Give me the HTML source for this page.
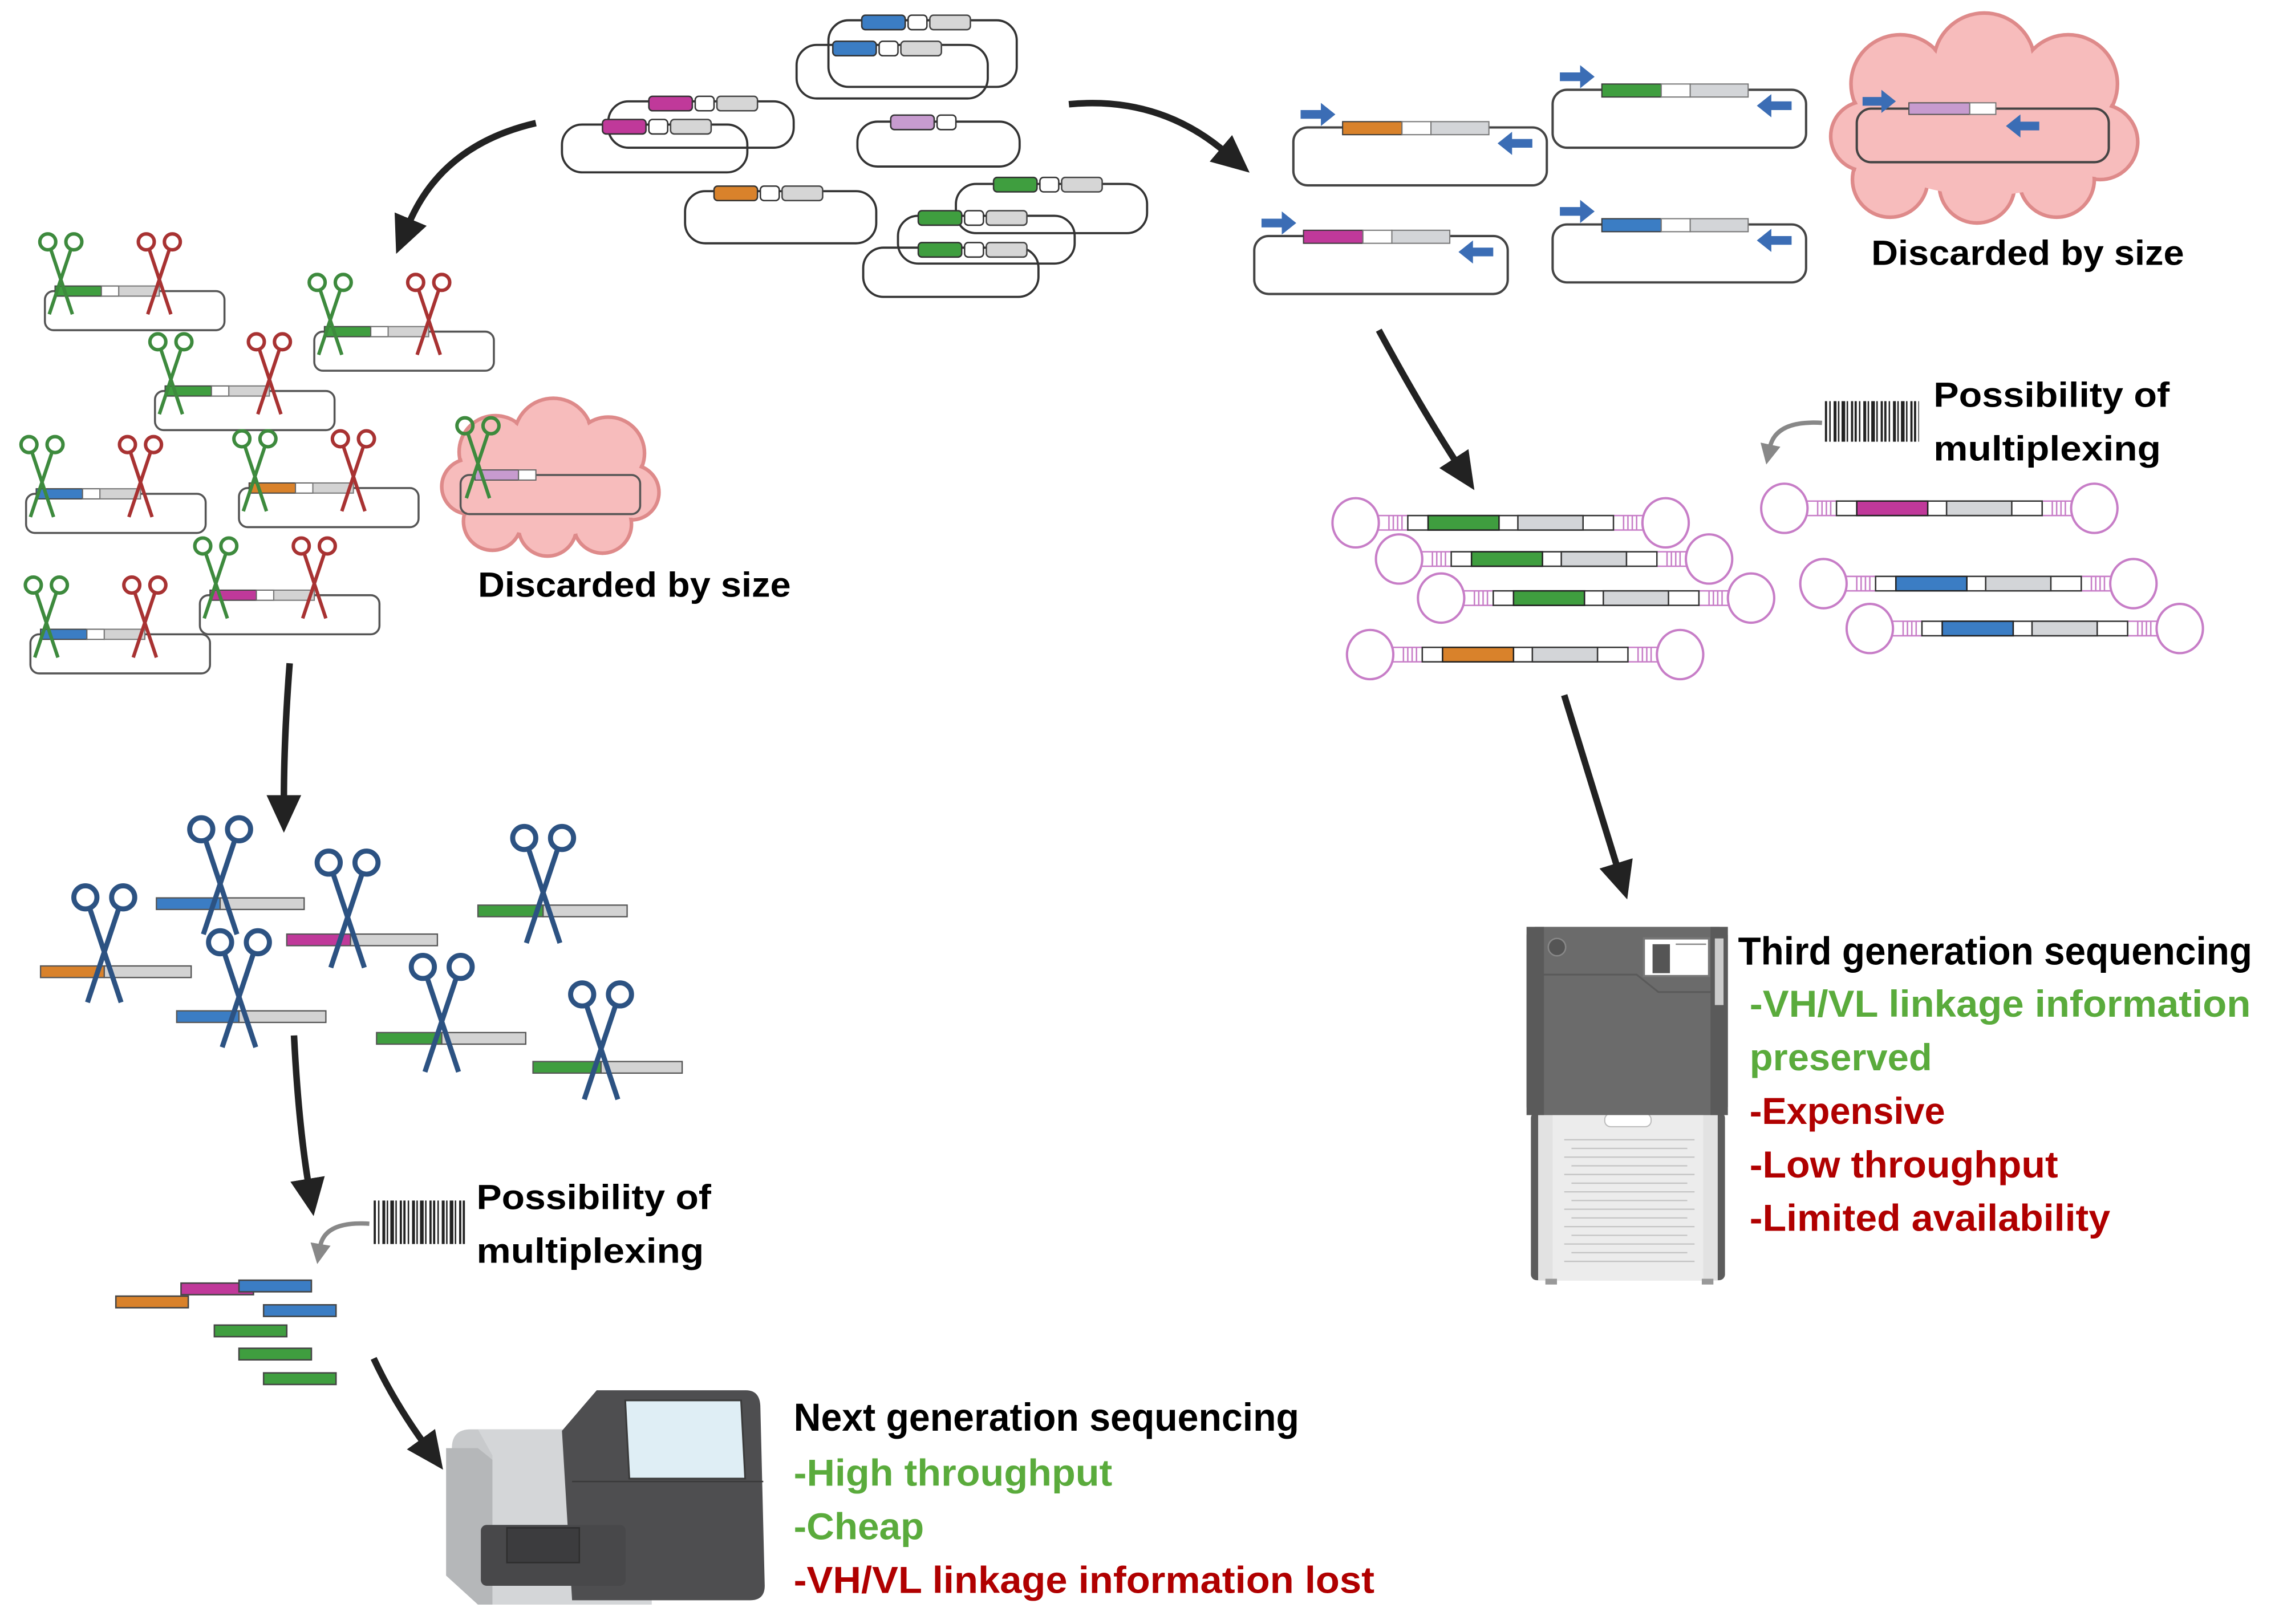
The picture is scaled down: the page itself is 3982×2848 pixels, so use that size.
<!DOCTYPE html>
<html><head><meta charset="utf-8"><style>
html,body{margin:0;padding:0;background:#fff}
svg{display:block}
.t{font-family:"Liberation Sans",sans-serif;font-weight:bold}
</style></head><body>
<svg width="3982" height="2848" viewBox="0 0 1568 1121.4" preserveAspectRatio="none" xmlns="http://www.w3.org/2000/svg">
<defs>
<marker id="ah" markerUnits="userSpaceOnUse" markerWidth="30" markerHeight="30" refX="4" refY="12" orient="auto" viewBox="0 0 30 24"><path d="M0,0 L26,12 L0,24 z" fill="#222"/></marker>
<marker id="gh" markerUnits="userSpaceOnUse" markerWidth="16" markerHeight="16" refX="2" refY="7" orient="auto" viewBox="0 0 16 14"><path d="M0,0 L14,7 L0,14 z" fill="#888"/></marker>
<!-- small scissors, cross at 0,0 -->
<g id="sc" fill="none" stroke-width="2.4">
<circle cx="-9" cy="-23" r="5.5"/><circle cx="9" cy="-23" r="5.5"/>
<path d="M-7,-18 L8,27 M7,-18 L-8,27"/>
</g>
<!-- left scissor plasmid -->
<g id="lp">
<rect x="0" y="0" width="124" height="27" rx="6" fill="none" stroke="#555" stroke-width="1.4"/>
<rect x="7" y="-3.5" width="32" height="7" stroke="#444" stroke-width="0.8"/>
<rect x="39" y="-3.5" width="12" height="7" fill="#fff" stroke="#666" stroke-width="0.8"/>
<rect x="51" y="-3.5" width="28" height="7" fill="#d3d3d3" stroke="#777" stroke-width="0.8"/>
<use href="#sc" x="11" y="-11" stroke="#3d8a3d"/>
<use href="#sc" x="79" y="-11" stroke="#a83232"/>
</g>
<!-- PCR plasmid -->
<g id="pp">
<rect x="0" y="0" width="175" height="40" rx="10" fill="none" stroke="#444" stroke-width="1.6"/>
<rect x="34" y="-4" width="41" height="9" stroke="#3a3a3a" stroke-width="0.8"/>
<rect x="75" y="-4" width="20" height="9" fill="#fff" stroke="#777" stroke-width="0.8"/>
<rect x="95" y="-4" width="40" height="9" fill="#d3d5d8" stroke="#777" stroke-width="0.8"/>
<path d="M5,-12 h14 v-5 l10,8 l-10,8 v-5 h-14z" fill="#3b6db5"/>
<path d="M165,8 h-14 v-5 l-10,8 l10,8 v-5 h14z" fill="#3b6db5"/>
</g>
<!-- dumbbell -->
<g id="db">
<ellipse cx="0" cy="0" rx="16" ry="17" fill="none" stroke="#c77dc7" stroke-width="1.6"/>
<ellipse cx="214" cy="0" rx="16" ry="17" fill="none" stroke="#c77dc7" stroke-width="1.6"/>
<path d="M15,-5 H36 M15,5 H36 M178,-5 H199 M178,5 H199 M23,-5 v10 M26,-5 v10 M29,-5 v10 M32,-5 v10 M185,-5 v10 M188,-5 v10 M191,-5 v10 M194,-5 v10" stroke="#c77dc7" stroke-width="1"/>
<rect x="36" y="-5" width="142" height="10" fill="#fff" stroke="#333" stroke-width="1"/>
<rect x="50" y="-5" width="49" height="10" stroke="#222" stroke-width="1"/>
<rect x="112" y="-5" width="45" height="10" fill="#d3d5d8" stroke="#333" stroke-width="1"/>
</g>
<!-- top plasmid genes -->
<g id="tg">
<rect x="0" y="-4.5" width="30" height="10" rx="2.5" stroke="#333" stroke-width="1"/>
<rect x="32" y="-4.5" width="13" height="10" rx="2.5" fill="#fff" stroke="#333" stroke-width="1"/>
<rect x="47" y="-4.5" width="28" height="10" rx="2.5" fill="#d6d6d6" stroke="#444" stroke-width="1"/>
</g>
</defs>

<!-- TOP PLASMIDS -->
<g fill="none" stroke="#333" stroke-width="1.5">
<rect x="572" y="14" width="130" height="46" rx="14"/>
<rect x="550" y="31" width="132" height="37" rx="14"/>
<rect x="420" y="70" width="128" height="32" rx="14"/>
<rect x="388" y="86" width="128" height="33" rx="14"/>
<rect x="592" y="84" width="112" height="31" rx="14"/>
<rect x="473" y="132" width="132" height="36" rx="14"/>
<rect x="660" y="127" width="132" height="34" rx="14"/>
<rect x="620" y="149" width="122" height="33" rx="14"/>
<rect x="596" y="171" width="121" height="34" rx="14"/>
</g>
<use href="#tg" x="595" y="15" fill="#3b7dc4"/>
<use href="#tg" x="575" y="33" fill="#3b7dc4"/>
<use href="#tg" x="448" y="71" fill="#c0399a"/>
<use href="#tg" x="416" y="87" fill="#c0399a"/>
<g><rect x="615" y="79.5" width="30" height="10" rx="2.5" fill="#c79bcf" stroke="#333"/><rect x="647" y="79.5" width="13" height="10" rx="2.5" fill="#fff" stroke="#333"/></g>
<use href="#tg" x="493" y="133" fill="#d9822b"/>
<use href="#tg" x="686" y="127" fill="#3f9e3f"/>
<use href="#tg" x="634" y="150" fill="#3f9e3f"/>
<use href="#tg" x="634" y="172" fill="#3f9e3f"/>

<!-- ARROWS -->
<g fill="none" stroke="#222" stroke-width="4.5" marker-end="url(#ah)">
<path d="M370,85 Q305,100 282,155"/>
<path d="M738,72 Q800,66 846,105"/>
<path d="M952,228 Q980,280 1006,320"/>
<path d="M1080,480 Q1100,545 1117,600"/>
<path d="M200,458 Q196,510 196,553"/>
<path d="M203,715 Q206,775 213,818"/>
<path d="M258,938 Q272,968 293,997"/>
</g>
<g fill="none" stroke="#888" stroke-width="3" marker-end="url(#gh)">
<path d="M1258,292 Q1226,290 1222,309"/>
<path d="M255,845 Q224,843 221,861"/>
</g>

<!-- RIGHT PCR PLASMIDS -->
<use href="#pp" x="893" y="88" fill="#d9822b"/>
<use href="#pp" x="1072" y="62" fill="#3f9e3f"/>
<use href="#pp" x="866" y="163" fill="#c0399a"/>
<use href="#pp" x="1072" y="155" fill="#3b7dc4"/>

<!-- right cloud -->
<g fill="#f7bcbc" stroke="#de8a8a" stroke-width="2.5">
<circle cx="1312" cy="58" r="34"/><circle cx="1370" cy="44" r="35"/><circle cx="1428" cy="58" r="34"/><circle cx="1450" cy="98" r="26"/><circle cx="1420" cy="124" r="26"/><circle cx="1365" cy="128" r="26"/><circle cx="1305" cy="124" r="26"/><circle cx="1288" cy="94" r="24"/>
</g>
<g fill="#f7bcbc">
<circle cx="1312" cy="58" r="32.5"/><circle cx="1370" cy="44" r="33.5"/><circle cx="1428" cy="58" r="32.5"/><circle cx="1450" cy="98" r="24.5"/><circle cx="1420" cy="124" r="24.5"/><circle cx="1365" cy="128" r="24.5"/><circle cx="1305" cy="124" r="24.5"/><circle cx="1288" cy="94" r="22.5"/><ellipse cx="1370" cy="90" rx="85" ry="45"/>
</g>
<rect x="1282" y="75" width="174" height="37" rx="10" fill="none" stroke="#444" stroke-width="1.6"/>
<rect x="1318" y="71" width="42" height="8" fill="#c79bcf" stroke="#555" stroke-width="0.8"/>
<rect x="1360" y="71" width="18" height="8" fill="#fff" stroke="#777" stroke-width="0.8"/>
<path d="M1286,67 h13 v-5 l10,8 l-10,8 v-5 h-13z" fill="#3b6db5"/>
<path d="M1408,84 h-13 v-5 l-10,8 l10,8 v-5 h13z" fill="#3b6db5"/>
<text class="t" x="1292" y="183" font-size="24" textLength="216" lengthAdjust="spacingAndGlyphs">Discarded by size</text>

<!-- barcode right -->
<line x1="1260" y1="291" x2="1325" y2="291" stroke="#222" stroke-width="28" stroke-dasharray="1.5 1.5 1 2 2 1 1 1.5 2.5 1 1 2 1.5 1"/>
<text class="t" x="1335" y="281" font-size="24" textLength="163" lengthAdjust="spacingAndGlyphs">Possibility of</text>
<text class="t" x="1335" y="318" font-size="24" textLength="157" lengthAdjust="spacingAndGlyphs">multiplexing</text>

<!-- dumbbells -->
<use href="#db" x="936" y="361" fill="#3f9e3f"/>
<use href="#db" x="966" y="386" fill="#3f9e3f"/>
<use href="#db" x="995" y="413" fill="#3f9e3f"/>
<use href="#db" x="946" y="452" fill="#d9822b"/>
<use href="#db" x="1232" y="351" fill="#c0399a"/>
<use href="#db" x="1259" y="403" fill="#3b7dc4"/>
<use href="#db" x="1291" y="434" fill="#3b7dc4"/>

<!-- third gen sequencer -->
<rect x="1057" y="768" width="134" height="116" rx="4" fill="#5c5c5c"/>
<rect x="1062" y="770" width="124" height="114" fill="#e2e2e2"/>
<rect x="1072" y="770" width="104" height="114" fill="#ececec"/>
<g stroke="#c4c4c4" stroke-width="0.9">
<path d="M1080,787H1170M1080,799H1170M1080,811H1170M1080,823H1170M1080,835H1170M1080,847H1170M1080,859H1170M1080,871H1170M1085,793H1165M1085,805H1165M1085,817H1165M1085,829H1165M1085,841H1165M1085,853H1165M1085,865H1165"/>
</g>
<rect x="1108" y="769" width="32" height="9" rx="4" fill="#fff" stroke="#bbb" stroke-width="0.8"/>
<rect x="1067" y="883" width="8" height="4" fill="#999"/><rect x="1175" y="883" width="8" height="4" fill="#999"/>
<rect x="1054" y="640" width="139" height="130" rx="6" fill="#6b6b6b"/>
<rect x="1054" y="640" width="12" height="130" fill="#5a5a5a"/>
<rect x="1181" y="640" width="12" height="130" fill="#5a5a5a"/>
<path d="M1060,673 H1130 L1145,685 H1190" stroke="#5a5a5a" stroke-width="1.2" fill="none"/>
<circle cx="1075" cy="654" r="6" fill="#555" stroke="#888" stroke-width="1"/>
<rect x="1135" y="648" width="45" height="26" fill="#fff" stroke="#777" stroke-width="1.5"/>
<rect x="1141" y="652" width="12" height="20" fill="#555"/>
<line x1="1157" y1="652" x2="1178" y2="652" stroke="#888"/>
<rect x="1184" y="648" width="6" height="46" fill="#ccc"/>
<text class="t" x="1200" y="666" font-size="27" textLength="355" lengthAdjust="spacingAndGlyphs">Third generation sequencing</text>
<g class="t" font-size="26">
<text x="1208" y="702" fill="#5aab3c" textLength="346" lengthAdjust="spacingAndGlyphs">-VH/VL linkage information</text>
<text x="1208" y="739" fill="#5aab3c" textLength="126" lengthAdjust="spacingAndGlyphs">preserved</text>
<text x="1208" y="776" fill="#b00000" textLength="135" lengthAdjust="spacingAndGlyphs">-Expensive</text>
<text x="1208" y="813" fill="#b00000" textLength="213" lengthAdjust="spacingAndGlyphs">-Low throughput</text>
<text x="1208" y="850" fill="#b00000" textLength="249" lengthAdjust="spacingAndGlyphs">-Limited availability</text>
</g>

<!-- LEFT SCISSOR PLASMIDS -->
<use href="#lp" x="31" y="201" fill="#3f9e3f"/>
<use href="#lp" x="217" y="229" fill="#3f9e3f"/>
<use href="#lp" x="107" y="270" fill="#3f9e3f"/>
<use href="#lp" x="18" y="341" fill="#3b7dc4"/>
<use href="#lp" x="165" y="337" fill="#d9822b"/>
<use href="#lp" x="138" y="411" fill="#c0399a"/>
<use href="#lp" x="21" y="438" fill="#3b7dc4"/>

<!-- left cloud -->
<g fill="#f7bcbc" stroke="#de8a8a" stroke-width="2.5">
<circle cx="342" cy="312" r="25"/><circle cx="382" cy="302" r="27"/><circle cx="420" cy="313" r="25"/><circle cx="436" cy="340" r="19"/><circle cx="416" cy="362" r="20"/><circle cx="378" cy="364" r="20"/><circle cx="340" cy="360" r="20"/><circle cx="324" cy="336" r="19"/>
</g>
<g fill="#f7bcbc">
<circle cx="342" cy="312" r="23.5"/><circle cx="382" cy="302" r="25.5"/><circle cx="420" cy="313" r="23.5"/><circle cx="436" cy="340" r="17.5"/><circle cx="416" cy="362" r="18.5"/><circle cx="378" cy="364" r="18.5"/><circle cx="340" cy="360" r="18.5"/><circle cx="324" cy="336" r="17.5"/><ellipse cx="380" cy="336" rx="60" ry="34"/>
</g>
<rect x="318" y="328" width="124" height="27" rx="6" fill="none" stroke="#555" stroke-width="1.4"/>
<rect x="328" y="324.5" width="30" height="7" fill="#c79bcf" stroke="#555" stroke-width="0.8"/>
<rect x="358" y="324.5" width="12" height="7" fill="#fff" stroke="#666" stroke-width="0.8"/>
<use href="#sc" x="330" y="317" stroke="#3d8a3d"/>
<text class="t" x="330" y="412" font-size="24" textLength="216" lengthAdjust="spacingAndGlyphs">Discarded by size</text>

<!-- blue scissors fragments -->
<g stroke="#555" stroke-width="0.9">
<rect x="108" y="620" width="44" height="8" fill="#3b7dc4"/><rect x="152" y="620" width="58" height="8" fill="#d3d3d3"/>
<rect x="198" y="645" width="44" height="8" fill="#c0399a"/><rect x="242" y="645" width="60" height="8" fill="#d3d3d3"/>
<rect x="28" y="667" width="44" height="8" fill="#d9822b"/><rect x="72" y="667" width="60" height="8" fill="#d3d3d3"/>
<rect x="330" y="625" width="45" height="8" fill="#3f9e3f"/><rect x="375" y="625" width="58" height="8" fill="#d3d3d3"/>
<rect x="122" y="698" width="43" height="8" fill="#3b7dc4"/><rect x="165" y="698" width="60" height="8" fill="#d3d3d3"/>
<rect x="260" y="713" width="45" height="8" fill="#3f9e3f"/><rect x="305" y="713" width="58" height="8" fill="#d3d3d3"/>
<rect x="368" y="733" width="47" height="8" fill="#3f9e3f"/><rect x="415" y="733" width="56" height="8" fill="#d3d3d3"/>
</g>
<g stroke="#2c5282">
<use href="#sc" transform="translate(152,606) scale(1.45)"/>
<use href="#sc" transform="translate(240,629) scale(1.45)"/>
<use href="#sc" transform="translate(72,653) scale(1.45)"/>
<use href="#sc" transform="translate(375,612) scale(1.45)"/>
<use href="#sc" transform="translate(165,684) scale(1.45)"/>
<use href="#sc" transform="translate(305,701) scale(1.45)"/>
<use href="#sc" transform="translate(415,720) scale(1.45)"/>
</g>

<!-- barcode left -->
<line x1="258" y1="844" x2="322" y2="844" stroke="#222" stroke-width="30" stroke-dasharray="1.5 1.5 1 2 2 1 1 1.5 2.5 1 1 2 1.5 1"/>
<text class="t" x="329" y="835" font-size="24" textLength="162" lengthAdjust="spacingAndGlyphs">Possibility of</text>
<text class="t" x="329" y="872" font-size="24" textLength="157" lengthAdjust="spacingAndGlyphs">multiplexing</text>

<!-- short fragments -->
<g stroke="#444" stroke-width="1">
<rect x="80" y="895" width="50" height="8" fill="#d9822b"/>
<rect x="125" y="886" width="50" height="8" fill="#c0399a"/>
<rect x="165" y="884" width="50" height="8" fill="#3b7dc4"/>
<rect x="182" y="901" width="50" height="8" fill="#3b7dc4"/>
<rect x="148" y="915" width="50" height="8" fill="#3f9e3f"/>
<rect x="165" y="931" width="50" height="8" fill="#3f9e3f"/>
<rect x="182" y="948" width="50" height="8" fill="#3f9e3f"/>
</g>

<!-- NGS sequencer -->
<path d="M312,1000 Q312,987 325,987 H395 V1108 H330 L310,1088 Z" fill="#c8cacc"/>
<path d="M330,987 H450 V1108 H340 V1005 Z" fill="#d4d6d8"/>
<path d="M308,1000 L330,1000 L340,1008 V1108 L330,1108 L308,1088 Z" fill="#b5b7b9"/>
<path d="M388,988 L412,960 H515 Q525,960 525,972 L528,1095 Q528,1105 518,1105 H395 Z" fill="#4e4e50"/>
<rect x="433" y="967" width="80" height="54" fill="#dfeef5" stroke="#3a3a3a" stroke-width="1.2" transform="skewX(3) translate(-52,0)"/>
<line x1="395" y1="1023" x2="527" y2="1023" stroke="#3a3a3a" stroke-width="1"/>
<rect x="332" y="1053" width="100" height="42" rx="4" fill="#48484a"/>
<rect x="350" y="1055" width="50" height="24" fill="#3c3c3e" stroke="#2e2e2e" stroke-width="1"/>
<text class="t" x="548" y="988" font-size="27" textLength="349" lengthAdjust="spacingAndGlyphs">Next generation sequencing</text>
<g class="t" font-size="26">
<text x="548" y="1026" fill="#5aab3c" textLength="220" lengthAdjust="spacingAndGlyphs">-High throughput</text>
<text x="548" y="1063" fill="#5aab3c" textLength="90" lengthAdjust="spacingAndGlyphs">-Cheap</text>
<text x="548" y="1100" fill="#b00000" textLength="401" lengthAdjust="spacingAndGlyphs">-VH/VL linkage information lost</text>
</g>
</svg>
</body></html>
